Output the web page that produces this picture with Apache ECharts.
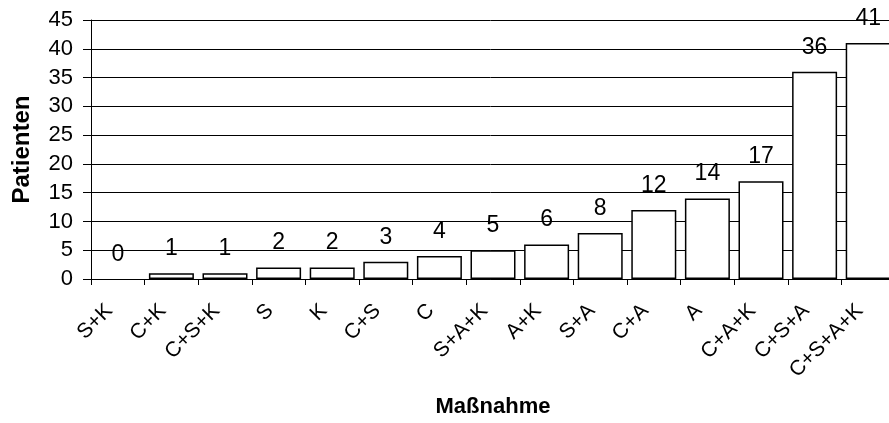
<!DOCTYPE html>
<html><head><meta charset="utf-8">
<script src="https://cdn.jsdelivr.net/npm/echarts@6/dist/echarts.min.js"></script>
<style>html,body{margin:0;padding:0;background:#fff}#c{width:889px;height:423px}</style>
</head><body><div id="c"></div>
<script>
const categories = ['S+K','C+K','C+S+K','S','K','C+S','C','S+A+K','A+K','S+A','C+A','A','C+A+K','C+S+A','C+S+A+K'];
const patienten = [0,1,1,2,2,3,4,5,6,8,12,14,17,36,41];
const yTicks = {min:0, max:45, interval:5};
const font = '"Liberation Sans", Arial, sans-serif';
const chart = echarts.init(document.getElementById('c'));
chart.setOption({
  animation:false,
  backgroundColor:'#fff',
  grid:{left:91, top:20, width:804, height:259, containLabel:false, outerBoundsMode:'none'},
  xAxis:{
    type:'category', data:categories, boundaryGap:true,
    name:'Maßnahme', nameLocation:'middle', nameGap:117,
    nameTextStyle:{fontFamily:font, fontSize:22, fontWeight:'bold', color:'#000'},
    axisLine:{lineStyle:{color:'#000', width:1}},
    axisTick:{show:true, length:6, alignWithLabel:false, lineStyle:{color:'#000'}},
    axisLabel:{rotate:45, fontFamily:font, fontSize:21, color:'#000', margin:20, padding:[0,12,0,0], interval:0}
  },
  yAxis:{
    type:'value', min:yTicks.min, max:yTicks.max, interval:yTicks.interval,
    name:'Patienten', nameLocation:'middle', nameGap:57, nameRotate:90,
    nameTextStyle:{fontFamily:font, fontSize:24, fontWeight:'bold', color:'#000'},
    axisLine:{show:true, lineStyle:{color:'#000', width:1}},
    axisTick:{show:true, length:8, lineStyle:{color:'#000'}},
    splitLine:{show:true, lineStyle:{color:'#000', width:1}},
    axisLabel:{fontFamily:font, fontSize:22, color:'#000', margin:18}
  },
  series:[{
    type:'bar',
    data:patienten.map(v => v === 0 ? {value:v, itemStyle:{borderWidth:0}} : v),
    barWidth:45,
    itemStyle:{color:'#fff', borderColor:'#000', borderWidth:1.5},
    label:{show:true, position:'top', distance:13, fontFamily:font, fontSize:23, color:'#000'}
  }]
});
</script></body></html>
